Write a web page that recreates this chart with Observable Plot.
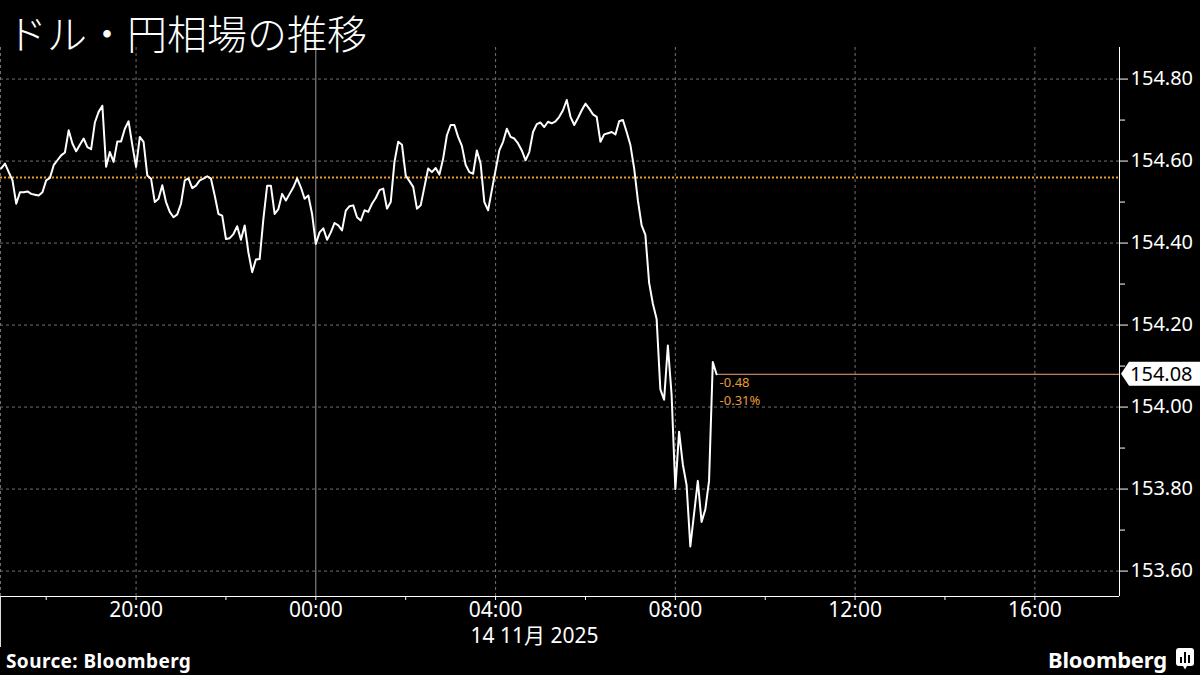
<!DOCTYPE html>
<html><head><meta charset="utf-8">
<script src="https://cdn.jsdelivr.net/npm/d3@7"></script>
<script src="https://cdn.jsdelivr.net/npm/@observablehq/plot@0.6"></script>
<style>
html,body{margin:0;padding:0;background:#000;}
#wrap{position:relative;width:1200px;height:675px;background:#000;overflow:hidden;}
#title{position:absolute;left:7px;top:3px;padding:0 6px 4px 0;font-family:"Noto Sans CJK JP";font-size:40px;font-weight:300;color:#fff;line-height:normal;white-space:nowrap;}
#chart{position:absolute;left:0;top:0;}
#leftedge{position:absolute;left:0;top:596px;width:1px;height:51px;background:#ddd;}
#source{position:absolute;left:6px;top:650px;font-family:"Noto Sans";font-weight:700;font-size:19px;letter-spacing:0.4px;color:#fff;line-height:22px;white-space:nowrap;}
#logo{position:absolute;left:1048px;top:646px;height:26px;display:flex;align-items:center;gap:9px;font-family:"Noto Sans";font-weight:700;font-size:22px;color:#fff;letter-spacing:-0.2px;white-space:nowrap;}
</style></head>
<body>
<div id="wrap">
  <div id="chart"></div>
  <div id="title">ドル・円相場の推移</div>
  <div id="leftedge"></div>
  <div id="source">Source: Bloomberg</div>
  <div id="logo"><span>Bloomberg</span><svg width="18" height="22" viewBox="0 0 18 22"><path d="M3 0h12a3 3 0 0 1 3 3v12a3 3 0 0 1-3 3h-4l-2 3.5-2-3.5H3a3 3 0 0 1-3-3V3a3 3 0 0 1 3-3z" fill="#fff"/><rect x="4" y="9" width="2" height="6" fill="#000"/><rect x="8" y="4" width="2" height="11" fill="#000"/><rect x="12" y="7" width="2" height="8" fill="#000"/></svg></div>
</div>
<script>
// 5-minute samples, 13 Nov 17:00 to 14 Nov 08:55
const times = [
"17:00","17:05","17:10","17:15","17:20","17:25","17:30","17:35","17:40","17:45","17:50","17:55",
"18:00","18:05","18:10","18:15","18:20","18:25","18:30","18:35","18:40","18:45","18:50","18:55",
"19:00","19:05","19:10","19:15","19:20","19:25","19:30","19:35","19:40","19:45","19:50","19:55",
"20:00","20:05","20:10","20:15","20:20","20:25","20:30","20:35","20:40","20:45","20:50","20:55",
"21:00","21:05","21:10","21:15","21:20","21:25","21:30","21:35","21:40","21:45","21:50","21:55",
"22:00","22:05","22:10","22:15","22:20","22:25","22:30","22:35","22:40","22:45","22:50","22:55",
"23:00","23:05","23:10","23:15","23:20","23:25","23:30","23:35","23:40","23:45","23:50","23:55",
"00:00","00:05","00:10","00:15","00:20","00:25","00:30","00:35","00:40","00:45","00:50","00:55",
"01:00","01:05","01:10","01:15","01:20","01:25","01:30","01:35","01:40","01:45","01:50","01:55",
"02:00","02:05","02:10","02:15","02:20","02:25","02:30","02:35","02:40","02:45","02:50","02:55",
"03:00","03:05","03:10","03:15","03:20","03:25","03:30","03:35","03:40","03:45","03:50","03:55",
"04:00","04:05","04:10","04:15","04:20","04:25","04:30","04:35","04:40","04:45","04:50","04:55",
"05:00","05:05","05:10","05:15","05:20","05:25","05:30","05:35","05:40","05:45","05:50","05:55",
"06:00","06:05","06:10","06:15","06:20","06:25","06:30","06:35","06:40","06:45","06:50","06:55",
"07:00","07:05","07:10","07:15","07:20","07:25","07:30","07:35","07:40","07:45","07:50","07:55",
"08:00","08:05","08:10","08:15","08:20","08:25","08:30","08:35","08:40","08:45","08:50","08:55"
];
const prices = [
154.582,154.594,154.573,154.553,154.496,154.524,154.524,154.526,154.520,154.518,154.516,154.524,
154.553,154.559,154.590,154.602,154.614,154.621,154.675,154.643,154.624,154.640,154.655,154.634,
154.629,154.694,154.720,154.735,154.586,154.622,154.598,154.648,154.648,154.679,154.697,154.639,
154.586,154.659,154.647,154.565,154.557,154.500,154.508,154.541,154.500,154.476,154.463,154.470,
154.496,154.553,154.558,154.534,154.540,154.553,154.557,154.563,154.557,154.516,154.471,154.467,
154.410,154.412,154.422,154.441,154.408,154.443,154.377,154.329,154.360,154.361,154.459,154.540,
154.540,154.471,154.483,154.520,154.504,154.520,154.536,154.558,154.536,154.508,154.516,154.471,
154.398,154.426,154.436,154.408,154.426,154.449,154.443,154.431,154.479,154.490,154.492,154.463,
154.455,154.480,154.476,154.496,154.510,154.529,154.533,154.484,154.500,154.598,154.647,154.640,
154.565,154.551,154.537,154.484,154.492,154.537,154.582,154.573,154.583,154.567,154.606,154.663,
154.688,154.688,154.659,154.637,154.591,154.573,154.569,154.626,154.594,154.500,154.480,154.529,
154.578,154.626,154.647,154.679,154.659,154.655,154.643,154.626,154.602,154.622,154.671,154.690,
154.694,154.683,154.696,154.692,154.697,154.708,154.724,154.749,154.708,154.688,154.705,154.724,
154.740,154.728,154.714,154.708,154.647,154.665,154.668,154.671,154.665,154.697,154.700,154.671,
154.639,154.582,154.504,154.443,154.420,154.303,154.252,154.215,154.043,154.018,154.150,154.030,
153.800,153.940,153.860,153.810,153.660,153.740,153.820,153.720,153.750,153.820,154.110,154.080
];
const xDomain = ["2025-11-13T16:59:00Z", "2025-11-14T17:53:00Z"];
const yDomain = [153.538, 154.877];
const xLabelTimes = ["2025-11-13T20:00:00Z","2025-11-14T00:00:00Z","2025-11-14T04:00:00Z","2025-11-14T08:00:00Z","2025-11-14T12:00:00Z","2025-11-14T16:00:00Z"];
const xLabels = ["20:00","00:00","04:00","08:00","12:00","16:00"];
const xMinorTimes = ["2025-11-13T18:00:00Z","2025-11-13T22:00:00Z","2025-11-14T02:00:00Z","2025-11-14T06:00:00Z","2025-11-14T10:00:00Z","2025-11-14T14:00:00Z"];
const dayBoundary = "2025-11-14T00:00:00Z";
const dateLabel = "14 11月 2025";
const yTicks = [153.6, 153.8, 154.0, 154.2, 154.4, 154.6, 154.8];
const yMinor = [153.7, 153.9, 154.1, 154.3, 154.5, 154.7];
const refPrice = 154.56;      // previous close
const lastPrice = 154.08;
const changeAbs = "-0.48";
const changePct = "-0.31%";

const toDate = hm => { const [h, m] = hm.split(":").map(Number); return new Date(Date.UTC(2025, 10, h >= 17 ? 13 : 14, h, m)); };
const data = times.map((t, i) => ({date: toDate(t), price: prices[i]}));
const xd = xDomain.map(s => new Date(s));
const xLab = xLabelTimes.map(s => new Date(s));
const xMin = xMinorTimes.map(s => new Date(s));
const dayB = new Date(dayBoundary);
const dashedX = [xd[0], ...xLab.filter(d => +d !== +dayB)];
const last = data[data.length - 1];

const grid = "#707070";
const orange = "#e89c35";

const chart = Plot.plot({
  width: 1200, height: 675,
  marginTop: 47, marginBottom: 79, marginLeft: 0, marginRight: 81,
  style: {background: "#000", color: "#fff", fontFamily: "'Noto Sans','Noto Sans CJK JP',sans-serif", overflow: "visible"},
  x: {type: "utc", domain: xd},
  y: {domain: yDomain},
  marks: [
    Plot.ruleY(yTicks, {stroke: grid, strokeDasharray: "3,3", strokeWidth: 1}),
    Plot.ruleX(dashedX, {stroke: grid, strokeDasharray: "3,3", strokeWidth: 1}),
    Plot.ruleX([dayB], {stroke: "#999", strokeWidth: 1}),
    Plot.ruleY([refPrice], {stroke: orange, strokeDasharray: "2,2", strokeWidth: 2}),
    Plot.ruleY([lastPrice], {x1: last.date, x2: xd[1], stroke: "#f2a679", strokeWidth: 1}),
    Plot.line(data, {x: "date", y: "price", stroke: "#fff", strokeWidth: 2, strokeLinejoin: "round"}),
    Plot.text([changeAbs], {x: last.date, y: last.price, text: d => d, dx: 3, dy: 9, textAnchor: "start", fill: orange, fontSize: 13}),
    Plot.text([changePct], {x: last.date, y: last.price, text: d => d, dx: 3, dy: 27, textAnchor: "start", fill: orange, fontSize: 13}),
    Plot.ruleX([xd[1]], {stroke: "#fff", strokeWidth: 1}),
    Plot.ruleY([yDomain[0]], {stroke: "#fff", strokeWidth: 1}),
    Plot.axisY(yTicks, {anchor: "right", tickSize: 8, tickPadding: 3, fontSize: 20, tickFormat: d => d.toFixed(2), label: null}),
    Plot.axisY(yMinor, {anchor: "right", tickSize: 5, tickFormat: () => "", label: null}),
    Plot.axisX(xLab, {anchor: "bottom", tickSize: 4, tickPadding: 2, fontSize: 21, tickFormat: d => xLabels[xLab.findIndex(t => +t === +d)], label: null}),
    Plot.axisX(xMin, {anchor: "bottom", tickSize: 4, tickFormat: () => "", label: null}),
    Plot.text([dateLabel], {x: xLab[2], frameAnchor: "bottom", text: d => d, dy: 46, dx: -25, textAnchor: "start", fill: "#fff", fontSize: 21})
  ]
});
document.getElementById("chart").appendChild(chart);

// current-price tag on the right axis
const sx = chart.scale("x"), sy = chart.scale("y");
const tx = sx.apply(xd[1]), ty = sy.apply(lastPrice);
const g = d3.select(chart).append("g");
g.append("path")
  .attr("d", `M${tx + 2},${ty} L${tx + 10},${ty - 12} L1200,${ty - 12} L1200,${ty + 12} L${tx + 10},${ty + 12} Z`)
  .attr("fill", "#fff");
g.append("text")
  .attr("x", tx + 11).attr("y", ty).attr("dy", "0.36em")
  .attr("text-anchor", "start")
  .attr("fill", "#000").attr("font-size", 20)
  .text(lastPrice.toFixed(2));
</script>
</body></html>
